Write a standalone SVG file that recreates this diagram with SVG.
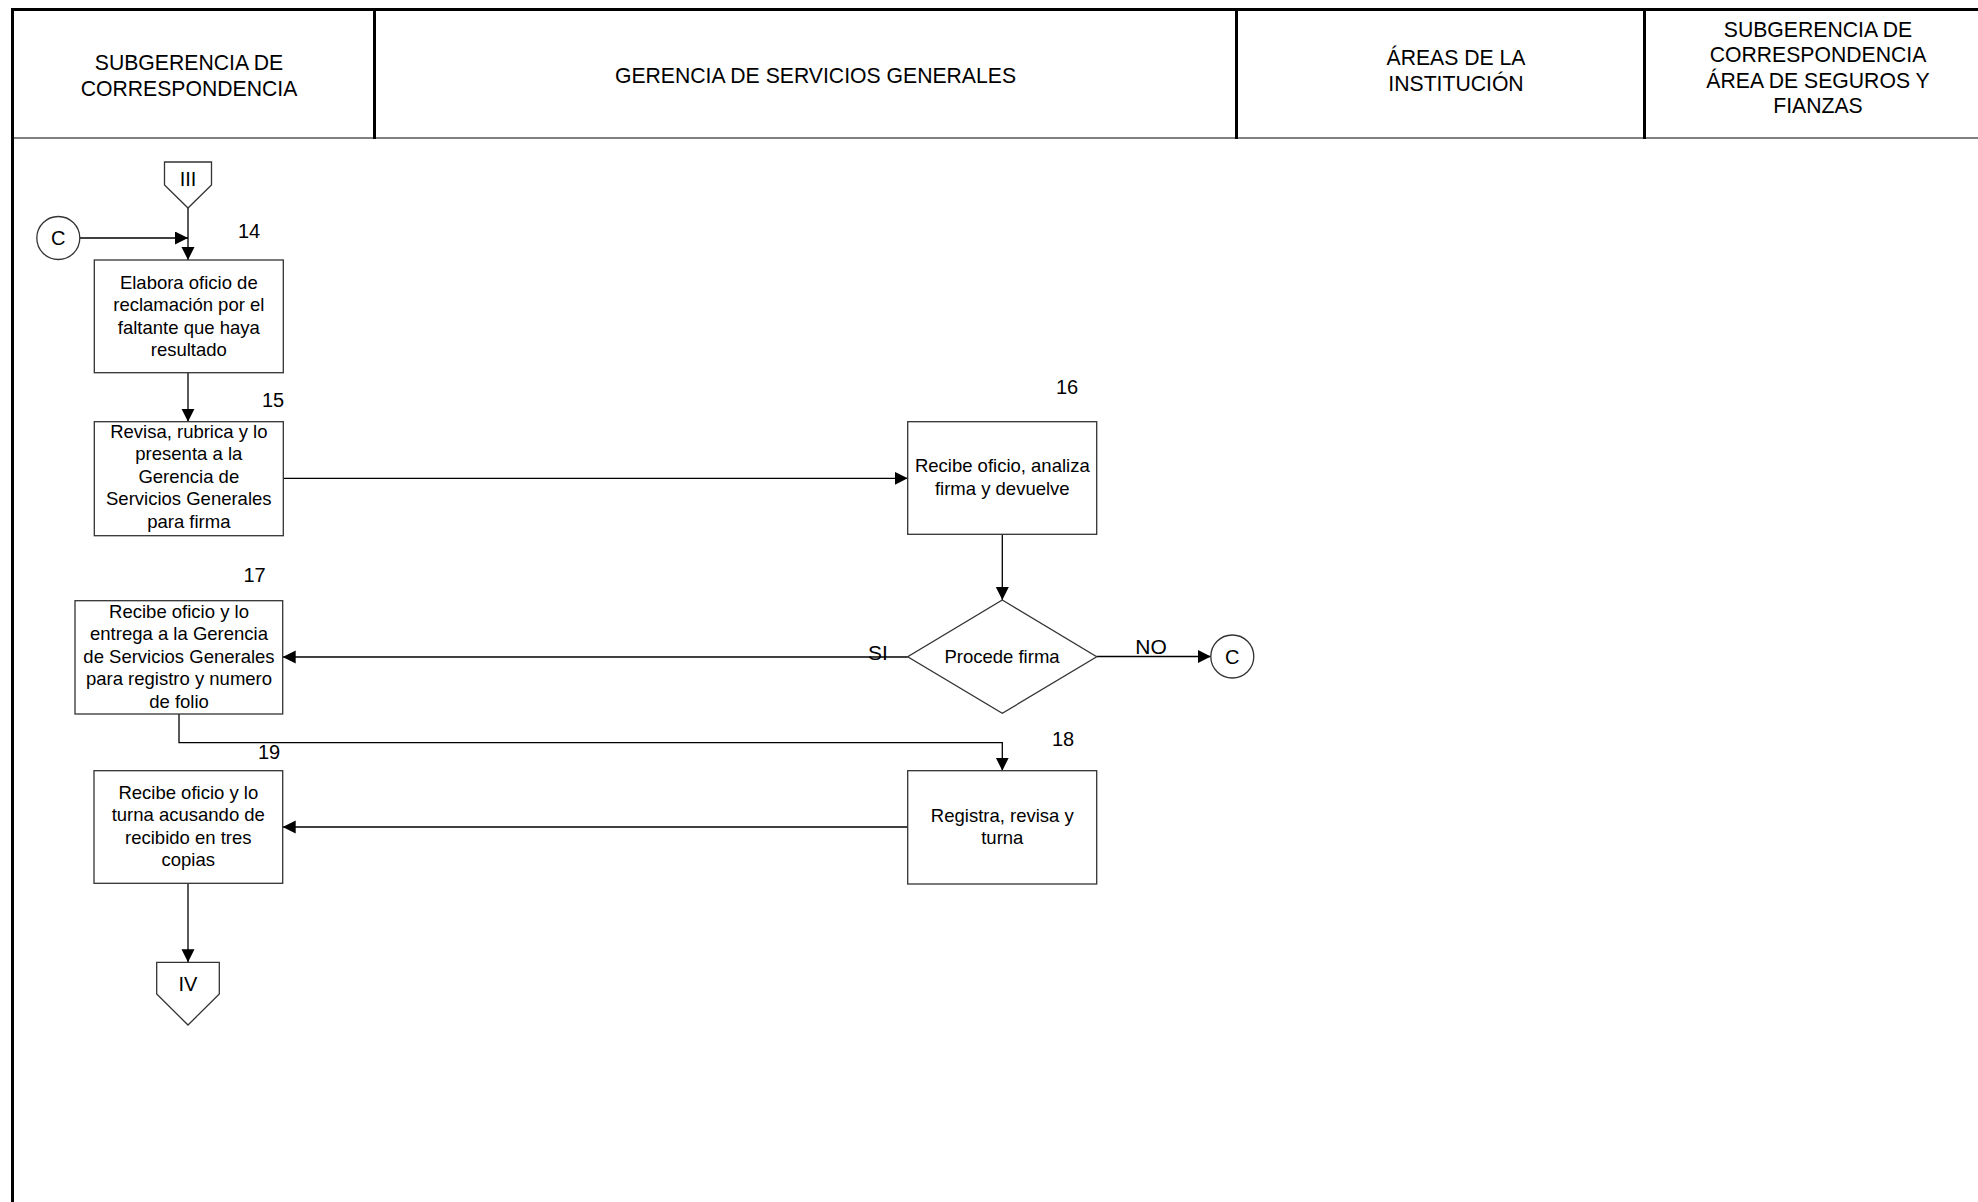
<svg xmlns="http://www.w3.org/2000/svg" width="1978" height="1202" viewBox="0 0 1978 1202">
<style>
  .hdr { font-family: "Liberation Sans", Arial, sans-serif; font-size: 21.2px; fill: #000; text-anchor: middle; }
  .txt { font-family: "Liberation Sans", Arial, sans-serif; font-size: 18.5px; fill: #000; text-anchor: middle; }
  .num { font-family: "Liberation Sans", Arial, sans-serif; font-size: 20px; fill: #000; text-anchor: middle; }
  .lbl { font-family: "Liberation Sans", Arial, sans-serif; font-size: 21px; fill: #000; text-anchor: middle; }
  .box { fill: #fff; stroke: #333; stroke-width: 1.3; }
  .frame { stroke: #000; stroke-width: 3; fill: none; }
  .hline { stroke: #808080; stroke-width: 2; fill: none; }
  .conn { stroke: #000; stroke-width: 1.3; fill: none; }
  .arr { marker-end: url(#ah); }
</style>
<defs>
  <marker id="ah" markerUnits="userSpaceOnUse" markerWidth="14" markerHeight="14" refX="13" refY="6.5" orient="auto">
    <path d="M0,0 L13,6.5 L0,13 z" fill="#000"/>
  </marker>
</defs>
<rect x="0" y="0" width="1978" height="1202" fill="#fff"/>
<g id="header">
  <line class="hline" x1="12.5" y1="138" x2="1978" y2="138"/>
  <line class="frame" x1="11" y1="9.5" x2="1978" y2="9.5"/>
  <line class="frame" x1="12.5" y1="8" x2="12.5" y2="1202"/>
  <line class="frame" x1="374.5" y1="9.5" x2="374.5" y2="139"/>
  <line class="frame" x1="1236.5" y1="9.5" x2="1236.5" y2="139"/>
  <line class="frame" x1="1644.5" y1="9.5" x2="1644.5" y2="139"/>
  <text class="hdr" x="189" y="69.5">SUBGERENCIA DE</text>
  <text class="hdr" x="189" y="95.5">CORRESPONDENCIA</text>
  <text class="hdr" x="815.5" y="83">GERENCIA DE SERVICIOS GENERALES</text>
  <text class="hdr" x="1456" y="65">ÁREAS DE LA</text>
  <text class="hdr" x="1456" y="90.5">INSTITUCIÓN</text>
  <text class="hdr" x="1818" y="36.5">SUBGERENCIA DE</text>
  <text class="hdr" x="1818" y="62">CORRESPONDENCIA</text>
  <text class="hdr" x="1818" y="87.5">ÁREA DE SEGUROS Y</text>
  <text class="hdr" x="1818" y="113">FIANZAS</text>
</g>
<g id="connectors">
  <line class="conn arr" x1="188" y1="208" x2="188" y2="260"/>
  <line class="conn arr" x1="80" y1="238" x2="188" y2="238"/>
  <line class="conn arr" x1="188" y1="372.7" x2="188" y2="421.7"/>
  <line class="conn arr" x1="283.3" y1="478.3" x2="907.7" y2="478.3"/>
  <line class="conn arr" x1="1002.3" y1="534.3" x2="1002.3" y2="600"/>
  <line class="conn arr" x1="907.7" y1="657" x2="282.7" y2="657"/>
  <line class="conn arr" x1="1096.7" y1="656.5" x2="1210.8" y2="656.5"/>
  <polyline class="conn arr" points="179,714 179,742.7 1002.3,742.7 1002.3,770.7"/>
  <line class="conn arr" x1="907.7" y1="827" x2="282.7" y2="827"/>
  <line class="conn arr" x1="188" y1="883.3" x2="188" y2="962.3"/>
  <text class="lbl" x="878" y="660">SI</text>
  <text class="lbl" x="1151" y="653.5">NO</text>
</g>
<g id="conn-III">
  <polygon class="box" points="164.5,162 211.5,162 211.5,185 188,208 164.5,185"/>
  <text class="num" x="188" y="185.5">III</text>
</g>
<g id="conn-C1">
  <circle class="box" cx="58.3" cy="238" r="21.5"/>
  <text class="num" x="58.3" y="245">C</text>
</g>
<g id="step14">
  <rect class="box" x="94.3" y="260" width="189" height="112.7"/>
  <text class="num" x="249" y="238">14</text>
  <text class="txt" x="188.8" y="289">Elabora oficio de</text>
  <text class="txt" x="188.8" y="311.4">reclamación por el</text>
  <text class="txt" x="188.8" y="333.8">faltante que haya</text>
  <text class="txt" x="188.8" y="356.2">resultado</text>
</g>
<g id="step15">
  <rect class="box" x="94.3" y="421.7" width="189" height="114"/>
  <text class="num" x="273" y="407">15</text>
  <text class="txt" x="188.8" y="438">Revisa, rubrica y lo</text>
  <text class="txt" x="188.8" y="460.4">presenta a la</text>
  <text class="txt" x="188.8" y="482.8">Gerencia de</text>
  <text class="txt" x="188.8" y="505.2">Servicios Generales</text>
  <text class="txt" x="188.8" y="527.6">para firma</text>
</g>
<g id="step16">
  <rect class="box" x="907.7" y="421.7" width="189" height="112.6"/>
  <text class="num" x="1067" y="394">16</text>
  <text class="txt" x="1002.3" y="472">Recibe oficio, analiza</text>
  <text class="txt" x="1002.3" y="494.5">firma y devuelve</text>
</g>
<g id="decision">
  <polygon class="box" points="1002.3,600 1096.7,656.7 1002.3,713.3 907.7,656.7"/>
  <text class="txt" x="1002" y="663">Procede firma</text>
</g>
<g id="conn-C2">
  <circle class="box" cx="1232.3" cy="656.5" r="21.5"/>
  <text class="num" x="1232.3" y="663.5">C</text>
</g>
<g id="step17">
  <rect class="box" x="75" y="600.7" width="207.7" height="113.3"/>
  <text class="num" x="254.5" y="582">17</text>
  <text class="txt" x="179" y="618">Recibe oficio y lo</text>
  <text class="txt" x="179" y="640.4">entrega a la Gerencia</text>
  <text class="txt" x="179" y="662.8">de Servicios Generales</text>
  <text class="txt" x="179" y="685.2">para registro y numero</text>
  <text class="txt" x="179" y="707.6">de folio</text>
</g>
<g id="step18">
  <rect class="box" x="907.7" y="770.7" width="189" height="113.3"/>
  <text class="num" x="1063" y="745.5">18</text>
  <text class="txt" x="1002.3" y="821.5">Registra, revisa y</text>
  <text class="txt" x="1002.3" y="844">turna</text>
</g>
<g id="step19">
  <rect class="box" x="94" y="770.7" width="188.7" height="112.6"/>
  <text class="num" x="269" y="759">19</text>
  <text class="txt" x="188.3" y="798.7">Recibe oficio y lo</text>
  <text class="txt" x="188.3" y="821.1">turna acusando de</text>
  <text class="txt" x="188.3" y="843.5">recibido en tres</text>
  <text class="txt" x="188.3" y="865.9">copias</text>
</g>
<g id="conn-IV">
  <polygon class="box" points="156.7,962.3 219.3,962.3 219.3,994 188,1025 156.7,994"/>
  <text class="num" x="188" y="990.5">IV</text>
</g>
</svg>
